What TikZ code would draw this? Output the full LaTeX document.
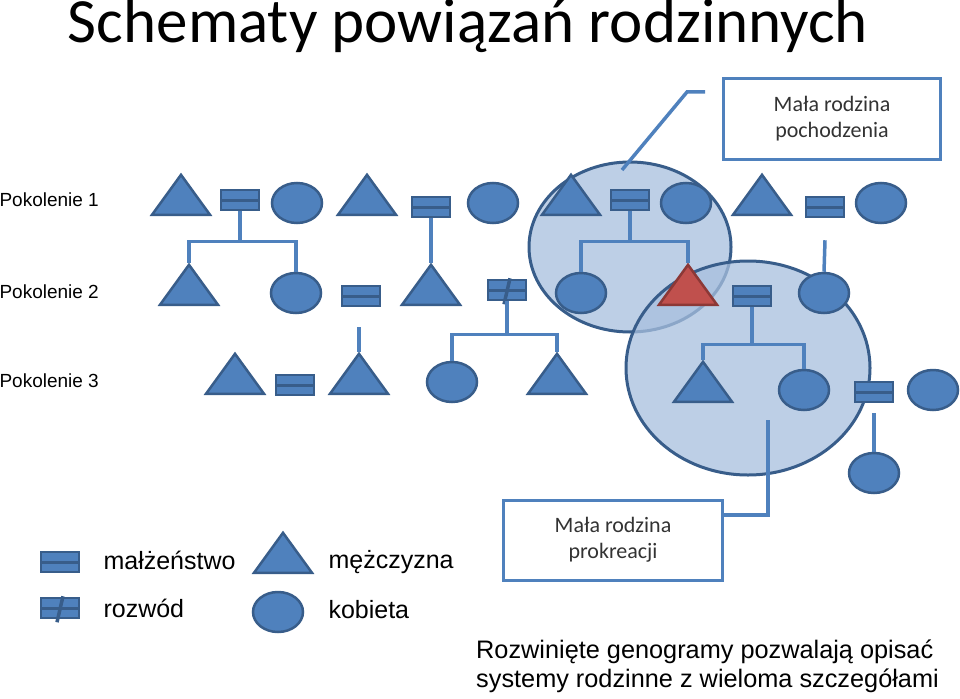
\documentclass[tikz,border=0pt]{standalone}
\usepackage{fontspec}
\setmainfont{Liberation Sans}
\newfontfamily\calfont{Carlito}
\usetikzlibrary{shapes.geometric}
\definecolor{fillb}{HTML}{4F81BD}
\definecolor{edgeb}{HTML}{385D8A}
\definecolor{lightb}{HTML}{A7BFDE}
\definecolor{redf}{HTML}{C0504D}
\definecolor{rede}{HTML}{8C3836}
\tikzset{
  man/.style={isosceles triangle, isosceles triangle apex angle=70, shape border rotate=90, isosceles triangle stretches, minimum width=58pt, minimum height=40pt, inner sep=0pt, fill=fillb, draw=edgeb, line width=2.5pt},
  woman/.style={ellipse, minimum width=50pt, minimum height=40pt, inner sep=0pt, fill=fillb, draw=edgeb, line width=2.5pt},
  marr/.style={rectangle, minimum width=38pt, minimum height=20pt, inner sep=0pt, fill=fillb, draw=edgeb, line width=2.5pt,
    path picture={\draw[edgeb,line width=3pt] (path picture bounding box.west) -- (path picture bounding box.east);}},
  divo/.style={marr, append after command={(\tikzlastnode.south)++(-3pt,-3pt) edge[draw=edgeb,line width=3.5pt] ++(6pt,26pt)}},
  link/.style={draw=fillb, line width=3.5pt},
  famcirc/.style={ellipse, fill=lightb, fill opacity=0.75, draw=edgeb, line width=3pt, inner sep=0pt},
  callbox/.style={draw=fillb, line width=3pt, fill=white, align=center, font=\calfont\fontsize{22}{26}\selectfont, text=black!80},
  lab/.style={font=\fontsize{19}{22}\selectfont, anchor=west},
  leg/.style={font=\fontsize{25}{29}\selectfont, anchor=west}
}
\begin{document}
\begin{tikzpicture}[x=1pt,y=-1pt]
\useasboundingbox (0,0) rectangle (960,698);
\node[font=\calfont\fontsize{63}{68}\selectfont] (title) at (468,26) {Schematy powiązań rodzinnych};
\node[lab] (p1) at (-4,200) {Pokolenie 1};
\node[lab] (p2) at (-4,292) {Pokolenie 2};
\node[lab] (p3) at (-4,381) {Pokolenie 3};
% family ellipses
\node[famcirc, minimum width=202pt, minimum height=170pt] (fo) at (630,247) {};
\node[famcirc, minimum width=244pt, minimum height=214pt] (fp) at (748,368) {};
% row 1
\node[man] (a1) at (181,200) {}; \node[marr] (m1) at (240,200) {}; \node[woman] (b1) at (297,203) {};
\node[man] (a2) at (367,200) {}; \node[marr] (m2) at (431,207) {}; \node[woman] (b2) at (493,203) {};
\node[man] (a3) at (571,200) {}; \node[marr] (m3) at (630,200) {}; \node[woman] (b3) at (686,203) {};
\node[man] (a4) at (762,200) {}; \node[marr] (m4) at (825,207) {}; \node[woman] (b4) at (881,203) {};
% row 2
\node[man] (c1) at (189,290) {}; \node[woman] (d1) at (296,293) {};
\node[marr] (m5) at (361,296) {}; \node[man] (c2) at (431,290) {};
\node[divo] (v1) at (507,290) {};
\node[woman] (d3) at (581,293) {};
\node[man, fill=redf, draw=rede] (c3) at (688,290) {};
\node[marr] (m6) at (752,296) {}; \node[woman] (d4) at (824,293) {};
% row 3
\node[man] (e1) at (235,379) {}; \node[marr] (m7) at (295,385) {}; \node[man] (e2) at (359,379) {};
\node[woman] (f1) at (452,382) {}; \node[man] (e3) at (557,379) {};
\node[man] (e4) at (703,387) {}; \node[woman] (f2) at (804,390) {};
\node[marr] (m8) at (874,392) {}; \node[woman] (f3) at (933,390) {};
% row 4
\node[woman] (g1) at (874,473) {};
% connectors
\draw[link] (m1.south) -- ++(0,30) coordinate (j1);
\draw[link] (c1.north) |- (j1) -| (d1.north);
\draw[link] (m2.south) -- (c2.north);
\draw[link] (m3.south) -- ++(0,30) coordinate (j3);
\draw[link] (d3.north) |- (j3) -| (c3.north);
\draw[link] (m4.south) ++(0,22) -- (d4.north);
\draw[link] (m5.south) ++(-2,20) -- (e2.north);
\draw[link] (v1.south) -- ++(0,33) coordinate (j5);
\draw[link] (f1.north) |- (j5) -| (e3.north);
\draw[link] (m6.south) -- ++(0,37) coordinate (j6);
\draw[link] (e4.north) |- (j6) -| (f2.north);
\draw[link] (m8.south) ++(0,10) -- (g1.north);
% callouts
\node[callbox, minimum width=217pt, minimum height=81pt] (cb1) at (832,119) {Mała rodzina\\pochodzenia};
\coordinate (k1) at (705,92); \coordinate (k2) at (687,92); \coordinate (k3) at (622,170);
\draw[link] (k1) -- (k2) -- (k3);
\node[callbox, minimum width=219pt, minimum height=80pt] (cb2) at (613,540) {Mała rodzina\\prokreacji};
\coordinate (k4) at (768,420); \coordinate (k5) at (768,515);
\draw[link] (k4) -- (k5) -- (cb2.east |- k5);
% legend
\node[marr] (lm) at (60,562) {}; \node[leg] (lmt) at (100,560) {małżeństwo};
\node[man] (lt) at (283,558) {}; \node[leg] (ltt) at (325,562) {mężczyzna};
\node[divo] (ld) at (60,608) {}; \node[leg] (ldt) at (100,608) {rozwód};
\node[woman] (lc) at (278,612) {}; \node[leg] (lct) at (325,610) {kobieta};
% bottom text
\node[font=\fontsize{25.3}{29}\selectfont, align=left, anchor=north west, inner sep=0pt] (note) at (476,640) {Rozwinięte genogramy pozwalają opisać\\systemy rodzinne z wieloma szczegółami};
\end{tikzpicture}
\end{document}
